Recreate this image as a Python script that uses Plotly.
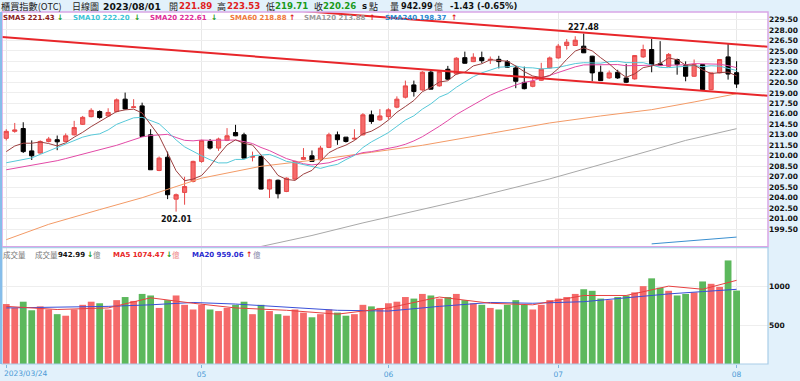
import plotly.graph_objects as go

# ---------------- data ----------------
dates = [
    "2023/03/24", "2023/03/27", "2023/03/28", "2023/03/29", "2023/03/30", "2023/03/31",
    "2023/04/06", "2023/04/07", "2023/04/10", "2023/04/11", "2023/04/12", "2023/04/13",
    "2023/04/14", "2023/04/17", "2023/04/18", "2023/04/19", "2023/04/20", "2023/04/21",
    "2023/04/24", "2023/04/25", "2023/04/26", "2023/04/27", "2023/04/28",
    "2023/05/02", "2023/05/03", "2023/05/04", "2023/05/05", "2023/05/08", "2023/05/09",
    "2023/05/10", "2023/05/11", "2023/05/12", "2023/05/15", "2023/05/16", "2023/05/17",
    "2023/05/18", "2023/05/19", "2023/05/22", "2023/05/23", "2023/05/24", "2023/05/25",
    "2023/05/26", "2023/05/29", "2023/05/30", "2023/05/31",
    "2023/06/01", "2023/06/02", "2023/06/05", "2023/06/06", "2023/06/07", "2023/06/08",
    "2023/06/09", "2023/06/12", "2023/06/13", "2023/06/14", "2023/06/15", "2023/06/16",
    "2023/06/19", "2023/06/20", "2023/06/21", "2023/06/26", "2023/06/27", "2023/06/28",
    "2023/06/29", "2023/06/30",
    "2023/07/03", "2023/07/04", "2023/07/05", "2023/07/06", "2023/07/07", "2023/07/10",
    "2023/07/11", "2023/07/12", "2023/07/13", "2023/07/14", "2023/07/17", "2023/07/18",
    "2023/07/19", "2023/07/20", "2023/07/21", "2023/07/24", "2023/07/25", "2023/07/26",
    "2023/07/27", "2023/07/28", "2023/07/31",
    "2023/08/01",
]

opens = [212.5, 213.5, 213.9, 210.7, 210.4, 212.05, 212.3, 212.05, 213.0, 214.5, 215.6, 216.33,
         215.7, 216.33, 218.1, 216.9, 217.14, 213.0, 207.9, 209.8, 203.8, 204.76, 206.33,
         209.2, 212.05, 211.1, 212.2, 213.33, 213.0, 209.8, 209.9, 205.24, 206.5, 204.9, 206.67,
         209.5, 210.0, 209.43, 211.2, 213.0, 212.67, 212.4, 213.0, 215.86, 215.14,
         215.6, 216.96, 218.38, 220.14, 219.43, 221.96, 220.0, 222.38, 221.7, 224.04, 223.47, 224.04,
         223.7, 223.8, 223.47, 222.57, 220.5, 219.94, 220.8, 222.57,
         224.0, 225.78, 225.78, 225.68, 224.25, 221.95, 221.14, 221.95, 221.14, 221.0, 224.15, 225.2,
         223.15, 222.81, 223.77, 222.91, 221.38, 223.05, 219.46, 221.86, 224.15,
         221.89]
highs = [213.8, 214.7, 214.8, 212.2, 212.2, 212.7, 212.9, 213.2, 215.0, 215.7, 216.8, 216.5,
         216.8, 218.2, 219.04, 218.1, 217.6, 213.8, 209.9, 210.6, 204.6, 207.0, 209.3,
         212.3, 212.4, 212.6, 213.96, 214.43, 213.3, 210.6, 210.0, 206.7, 206.6, 206.9, 209.3,
         211.1, 210.76, 211.43, 213.3, 213.47, 212.67, 213.8, 216.1, 216.47, 216.67,
         216.8, 218.5, 220.76, 220.76, 222.1, 222.3, 222.2, 222.86, 224.1, 224.9, 224.67, 224.9,
         224.2, 224.3, 223.7, 222.9, 222.76, 221.2, 223.3, 224.2,
         226.0, 226.7, 227.1, 227.48, 224.3, 222.9, 222.2, 222.3, 223.15, 224.4, 225.9, 226.7,
         226.4, 224.7, 223.9, 223.5, 223.77, 223.1, 221.9, 223.8, 226.07,
         223.53]
lows = [212.2, 213.3, 210.4, 209.4, 210.3, 211.9, 210.8, 212.0, 212.9, 214.4, 215.5, 215.3,
        215.6, 216.2, 216.6, 216.8, 212.7, 208.0, 207.8, 203.8, 202.01, 203.0, 206.2,
        209.0, 210.9, 210.7, 212.1, 212.8, 209.67, 209.2, 205.2, 203.96, 203.9, 204.8, 206.5,
        209.4, 209.2, 209.3, 211.1, 211.57, 211.9, 212.3, 212.9, 214.57, 215.0,
        215.2, 216.8, 218.2, 218.47, 219.3, 219.5, 219.9, 220.86, 221.6, 223.2, 223.4, 223.24,
        223.14, 222.5, 222.6, 219.67, 219.5, 219.8, 220.7, 222.5,
        223.9, 225.2, 225.7, 224.7, 220.66, 220.7, 221.0, 221.0, 220.4, 220.9, 224.0, 221.95,
        222.9, 222.7, 221.6, 220.66, 221.3, 219.4, 219.4, 221.8, 220.9,
        219.71]
closes = [213.5, 213.7, 210.6, 210.0, 212.05, 212.4, 212.0, 212.86, 214.04, 215.5, 216.5, 215.47,
          216.2, 218.0, 216.7, 217.0, 212.76, 208.0, 209.67, 204.43, 204.43, 205.6, 209.2,
          212.2, 211.1, 212.4, 212.86, 212.86, 209.67, 209.9, 205.24, 206.57, 204.57, 206.8, 209.2,
          209.76, 209.2, 211.1, 213.0, 212.3, 212.05, 212.5, 215.86, 214.9, 215.7,
          216.57, 218.1, 220.0, 219.2, 221.96, 219.53, 222.04, 220.96, 223.96, 223.24, 224.1, 223.6,
          223.8, 223.47, 222.67, 220.66, 219.6, 220.66, 222.4, 224.0,
          225.68, 226.26, 226.54, 224.73, 221.86, 220.75, 221.86, 221.14, 220.52, 224.34, 225.2, 223.05,
          222.9, 224.5, 223.05, 221.38, 223.05, 219.46, 221.86, 223.77, 221.69,
          220.26]

# volume (億)
volumes = [770, 720, 800, 690, 740, 700, 640, 620, 700, 760,
           800, 780, 700, 820, 860, 810, 900, 880, 720, 820,
           880, 760, 700, 760, 700, 680, 720, 760, 800, 640,
           760, 680, 640, 620, 700, 660, 600, 640, 700, 660,
           620, 640, 760, 740, 720, 780, 800, 860, 840, 900,
           880, 840, 860, 900, 820, 780, 760, 720, 700, 760,
           820, 760, 700, 760, 820, 840, 860, 900, 960, 940,
           840, 820, 860, 880, 920, 1000, 1100, 980, 940, 880,
           900, 920, 1060, 1030, 990, 1330, 942.99]

# moving averages (one value per session)
sma5 = [210.6, 211.4, 211.8, 211.8, 211.97, 211.75, 211.41, 211.86, 212.67, 213.36,
        214.18, 214.87, 215.54, 216.33, 216.57, 216.67, 216.13, 214.49, 212.83, 210.37,
        207.86, 206.43, 206.67, 207.17, 208.51, 210.1, 211.55, 212.28, 211.78, 211.54,
        210.11, 208.85, 207.19, 206.62, 206.48, 207.38, 207.91, 209.21, 210.45, 211.07,
        211.53, 212.19, 213.14, 213.52, 214.2, 215.11, 216.23, 217.05, 217.91, 219.17,
        219.76, 220.55, 220.74, 221.69, 221.95, 222.86, 223.17, 223.74, 223.64, 223.53,
        222.84, 222.04, 221.41, 221.2, 221.46, 222.47, 223.8, 224.98, 225.44, 225.01,
        224.03, 223.15, 222.07, 221.23, 221.72, 222.61, 222.85, 223.2, 224.0, 223.74,
        222.98, 222.98, 222.29, 221.76, 221.9, 221.97, 221.43]
sma10 = [209.0, 209.2, 209.4, 209.7, 210.2, 210.7, 211.1, 211.6, 212.1, 212.67,
         212.97, 213.14, 213.7, 214.5, 214.97, 215.43, 215.5, 215.02, 214.58, 213.47,
         212.27, 211.28, 210.58, 210.0, 209.44, 208.98, 208.99, 209.48, 209.48, 210.02,
         210.1, 210.2, 209.74, 209.2, 209.01, 208.74, 208.38, 208.2, 208.53, 208.77,
         209.46, 210.05, 211.18, 211.99, 212.64, 213.32, 214.21, 215.1, 215.72, 216.68,
         217.43, 218.39, 218.9, 219.8, 220.56, 221.31, 221.86, 222.24, 222.67, 222.74,
         222.85, 222.61, 222.58, 222.42, 222.5, 222.65, 222.92, 223.19, 223.32, 223.24,
         223.25, 223.47, 223.52, 223.33, 223.37, 223.32, 223.0, 222.64, 222.61, 222.73,
         222.79, 222.91, 222.75, 222.88, 222.82, 222.47, 222.20]
sma20 = [208.0, 208.2, 208.4, 208.6, 208.8, 209.0, 209.3, 209.6, 209.9, 210.2,
         210.5, 210.8, 211.1, 211.5, 211.9, 212.3, 212.7, 212.9, 213.0, 213.07,
         212.62, 212.21, 212.14, 212.25, 212.21, 212.2, 212.25, 212.25, 212.03, 211.75,
         211.19, 210.74, 210.16, 209.6, 209.23, 208.86, 208.69, 208.84, 209.0, 209.4,
         209.78, 210.13, 210.46, 210.6, 210.83, 211.03, 211.3, 211.65, 212.13, 212.73,
         213.45, 214.22, 215.04, 215.9, 216.6, 217.32, 218.04, 218.67, 219.2, 219.71,
         220.14, 220.5, 220.74, 221.11, 221.53, 221.98, 222.39, 222.72, 223.0, 222.99,
         223.05, 223.04, 223.05, 222.88, 222.94, 222.99, 222.96, 222.92, 222.97, 222.99,
         223.02, 223.19, 223.14, 223.11, 223.1, 222.9, 222.61]

sma60_dates = ["2023/03/24", "2023/03/31", "2023/04/13", "2023/04/20", "2023/04/26", "2023/05/02",
               "2023/05/11", "2023/05/22", "2023/05/30", "2023/06/07", "2023/06/19", "2023/06/30",
               "2023/07/10", "2023/07/18", "2023/07/25", "2023/08/01"]
sma60 = [198.0, 200.2, 202.3, 204.0, 205.6, 206.8, 208.5, 209.5, 210.5, 211.5, 213.2, 214.7,
         215.7, 216.6, 217.7, 218.88]
sma120_dates = ["2023/05/09", "2023/05/19", "2023/05/29", "2023/06/07", "2023/06/15", "2023/06/30",
                "2023/07/10", "2023/07/18", "2023/07/24", "2023/08/01"]
sma120 = [196.5, 198.6, 200.4, 202.3, 204.0, 206.7, 208.7, 210.8, 212.2, 213.88]
sma240_dates = ["2023/07/18", "2023/07/24", "2023/08/01"]
sma240 = [197.4, 197.8, 198.37]

vma_dates = ["2023/03/24", "2023/04/06", "2023/04/14", "2023/04/21", "2023/04/28", "2023/05/08",
             "2023/05/16", "2023/05/24", "2023/06/01", "2023/06/09", "2023/06/19", "2023/06/28",
             "2023/07/06", "2023/07/13", "2023/07/20", "2023/07/26", "2023/08/01"]
vma5 = [740, 700, 720, 850, 780, 720, 690, 640, 720, 860, 780, 760, 880, 880, 1000, 960, 1074.47]
vma20 = [720, 730, 740, 760, 790, 770, 730, 690, 680, 740, 790, 780, 800, 850, 900, 930, 959.06]

# channel lines (price at first and last session)
channel_upper = [233.96, 225.95]
channel_lower = [226.93, 218.93]

price_ticks = [199.5 + 1.5 * k for k in range(21)]
vol_ticks = [500, 1000]
month_ticks = ["2023/03/24", "2023/05/02", "2023/06/01", "2023/07/03", "2023/08/01"]
month_labels = ["2023/03/24", "05", "06", "07", "08"]

# ---------------- figure ----------------
W, H = 800, 381
ML, MR, MT, MB = 2, 32, 12, 15
PW, PH = W - ML - MR, H - MT - MB
PRICE_BOTTOM = 248
VOL_TOP = 249

def fx(px):
    return (px - ML) / PW

def fy(py):
    return (H - MB - py) / PH

# session positions on a trading-day axis (no gaps for weekends / holidays)
pos = {d: i for i, d in enumerate(dates)}
def P(ds):
    return [pos[d] for d in ds]

RED = "#f56a6a"
REDL = "#e84848"
GREEN = "#5cb85c"
BG = "#e2f1fb"
AXBLUE = "#4a9ad6"

fig = go.Figure()

fig.add_trace(go.Candlestick(
    x=P(dates), open=opens, high=highs, low=lows, close=closes,
    increasing=dict(fillcolor=RED, line=dict(color=REDL, width=1)),
    decreasing=dict(fillcolor="#000000", line=dict(color="#000000", width=1)),
    whiskerwidth=0, xaxis="x", yaxis="y", showlegend=False, hoverinfo="skip",
))

def line(x, y, color, width=1, xa="x", ya="y"):
    fig.add_trace(go.Scatter(x=P(x), y=y, mode="lines", line=dict(color=color, width=width),
                             xaxis=xa, yaxis=ya, showlegend=False, hoverinfo="skip"))

line(sma120_dates, sma120, "#a8a8a8")
line(sma240_dates, sma240, "#3a8fd0")
line(sma60_dates, sma60, "#f39a66")
line(dates, sma20, "#e24aa6")
line(dates, sma10, "#56c8d8")
line(dates, sma5, "#9c3f3f")

vol_colors = [RED if c >= o else GREEN for o, c in zip(opens, closes)]
fig.add_trace(go.Bar(x=P(dates), y=volumes, marker=dict(color=vol_colors, line=dict(width=0)),
                     width=0.8, xaxis="x2", yaxis="y2", showlegend=False, hoverinfo="skip"))
line(vma_dates, vma20, "#3a50d8", xa="x2", ya="y2")
line(vma_dates, vma5, "#e84040", xa="x2", ya="y2")

# channel lines as shapes (extend to edges)
n = len(dates)
slope_u = (channel_upper[1] - channel_upper[0]) / (n - 1)
slope_l = (channel_lower[1] - channel_lower[0]) / (n - 1)
X0, X1 = -0.5, 89.7
for v0, s in ((channel_upper[0], slope_u), (channel_lower[0], slope_l)):
    fig.add_shape(type="line", xref="x", yref="y", x0=X0, x1=X1,
                  y0=v0 + s * X0, y1=v0 + s * X1, line=dict(color="#e8262a", width=2))

# panel borders
fig.add_shape(type="rect", xref="paper", yref="paper", x0=fx(ML), x1=fx(W - MR),
              y0=fy(PRICE_BOTTOM), y1=1, line=dict(color="#d9a6e6", width=1.5), layer="above")
fig.add_shape(type="rect", xref="paper", yref="paper", x0=fx(ML), x1=fx(W - MR),
              y0=0, y1=fy(VOL_TOP), line=dict(color="#a9cde8", width=1.2), layer="above")
fig.add_shape(type="line", xref="paper", yref="paper", x0=fx(1), x1=fx(1),
              y0=0, y1=1, line=dict(color="#86bdea", width=2), layer="above")

ann = []
def text(px, py, s, color="#000", size=9, bold=True, family="DejaVu Sans, Verdana, sans-serif",
         anchor="left"):
    ann.append(dict(x=fx(px), y=fy(py), xref="paper", yref="paper", text=s, showarrow=False,
                    xanchor=anchor, yanchor="middle", xshift=-2,
                    font=dict(color=color, size=size, family=family,
                              weight="bold" if bold else "normal")))

CJK = "Noto Sans CJK TC, sans-serif"
# header
hy = 6
text(1, hy, "櫃買指數(OTC)", "#222", 9.2, False, CJK)
text(72, hy, "日線圖", "#222", 9, False, CJK)
text(103, hy, "2023/08/01", "#111", 9.2)
text(169, hy, "開", "#222", 9, False, CJK)
text(179, hy, f"{opens[-1]:.2f}", "#e02020", 8.6)
text(217, hy, "高", "#222", 9, False, CJK)
text(227, hy, f"{highs[-1]:.2f}", "#e02020", 8.6)
text(266, hy, "低", "#222", 9, False, CJK)
text(275, hy, f"{lows[-1]:.2f}", "#1a9a1a", 8.6)
text(314, hy, "收", "#222", 9, False, CJK)
text(323, hy, f"{closes[-1]:.2f}", "#1a9a1a", 8.6)
text(362, hy, "s", "#111", 8.6)
text(369, hy, "點", "#222", 9, False, CJK)
text(390, hy, "量", "#222", 9, False, CJK)
text(401, hy, f"{volumes[-1]:.2f}", "#111", 8.2)
text(434, hy, "億", "#555", 9, False, CJK)
text(450, hy, "-1.43 (-0.65%)", "#111", 8.4)

# price legend row
ly = 18
UP, DN = "#e02020", "#1a9a1a"
text(3, ly, "SMA5 221.43", "#8b1c1c", 7)
text(57, ly, "↓", DN, 7.5)
text(73, ly, "SMA10 222.20", "#3cc4d6", 7)
text(134, ly, "↓", DN, 7.5)
text(150, ly, "SMA20 222.61", "#e02d98", 7)
text(211, ly, "↓", DN, 7.5)
text(230, ly, "SMA60 218.88", "#f07a3a", 7)
text(289, ly, "↑", UP, 7.5)
text(304, ly, "SMA120 213.88", "#9a9a9a", 7)
text(369, ly, "↑", UP, 7.5)
text(385, ly, "SMA240 198.37", "#2a8ad0", 7)
text(451, ly, "↑", UP, 7.5)

# high / low labels
ann.append(dict(x=pos[dates[68]], y=highs[68], xref="x", yref="y", text=f"{highs[68]:.2f}",
                showarrow=False, yanchor="bottom", yshift=0,
                font=dict(size=8, color="#111", family="DejaVu Sans", weight="bold")))
ann.append(dict(x=pos[dates[20]], y=lows[20], xref="x", yref="y", text=f"{lows[20]:.2f}",
                showarrow=False, yanchor="top", yshift=-1,
                font=dict(size=8, color="#111", family="DejaVu Sans", weight="bold")))

# first date label, left-aligned at its tick (as in the original)
ann.append(dict(x=pos[month_ticks[0]], y=0, xref="x2", yref="paper", text=month_labels[0],
                showarrow=False, xanchor="left", yanchor="top", xshift=-4, yshift=-3,
                font=dict(size=7.5, color=AXBLUE, family="DejaVu Sans")))

# volume title row
vy = 256
text(3, vy, "成交量", "#777", 7.5, False, CJK)
text(35, vy, "成交量", "#777", 7.5, False, CJK)
text(58, vy, "942.99", "#111", 7)
text(87, vy, "↓", DN, 7.5)
text(93, vy, "億", "#888", 7.5, False, CJK)
text(113, vy, "MA5 1074.47", "#e82828", 7)
text(166, vy, "↓", DN, 7.5)
text(172, vy, "億", "#e88", 7.5, False, CJK)
text(192, vy, "MA20 959.06", "#2a2ad0", 7)
text(246, vy, "↑", UP, 7.5)
text(253, vy, "億", "#88a", 7.5, False, CJK)

fig.update_layout(
    width=W, height=H, margin=dict(l=ML, r=MR, t=MT, b=MB),
    paper_bgcolor=BG, plot_bgcolor="#ffffff", showlegend=False,
    annotations=ann, bargap=0.2,
    xaxis=dict(type="linear", domain=[0, 1], anchor="y", range=[X0, X1], autorange=False,
               rangeslider=dict(visible=False), showticklabels=False,
               tickvals=P(month_ticks), showgrid=True, gridcolor="#e8e8e8", gridwidth=1,
               zeroline=False, ticks=""),
    xaxis2=dict(type="linear", domain=[0, 1], anchor="y2", range=[X0, X1], autorange=False,
                tickvals=P(month_ticks), ticktext=[""] + month_labels[1:], showgrid=True,
                gridcolor="#e8e8e8", ticks="outside", ticklen=3, tickcolor="#7fb6de",
                tickfont=dict(size=7.5, color=AXBLUE, family="DejaVu Sans"), zeroline=False),
    yaxis=dict(domain=[fy(PRICE_BOTTOM), 1], anchor="x", side="right",
               range=[197.0, 230.57], autorange=False, tickvals=price_ticks, tickformat=".2f",
               showgrid=True, gridcolor="#eeeeee", zeroline=False, ticks="",
               tickfont=dict(size=7.5, color="#111", family="DejaVu Sans", weight="bold")),
    yaxis2=dict(domain=[0, fy(VOL_TOP)], anchor="x2", side="right",
                range=[0, 1494], autorange=False, tickvals=vol_ticks, showgrid=True,
                gridcolor="#eeeeee", zeroline=False, ticks="",
                tickfont=dict(size=7.5, color="#111", family="DejaVu Sans", weight="bold")),
)

fig.write_html("out.html", config={"displayModeBar": False},
               post_script="document.body.style.margin='0';"
               "document.body.style.padding='0';document.body.style.overflow='hidden';")
